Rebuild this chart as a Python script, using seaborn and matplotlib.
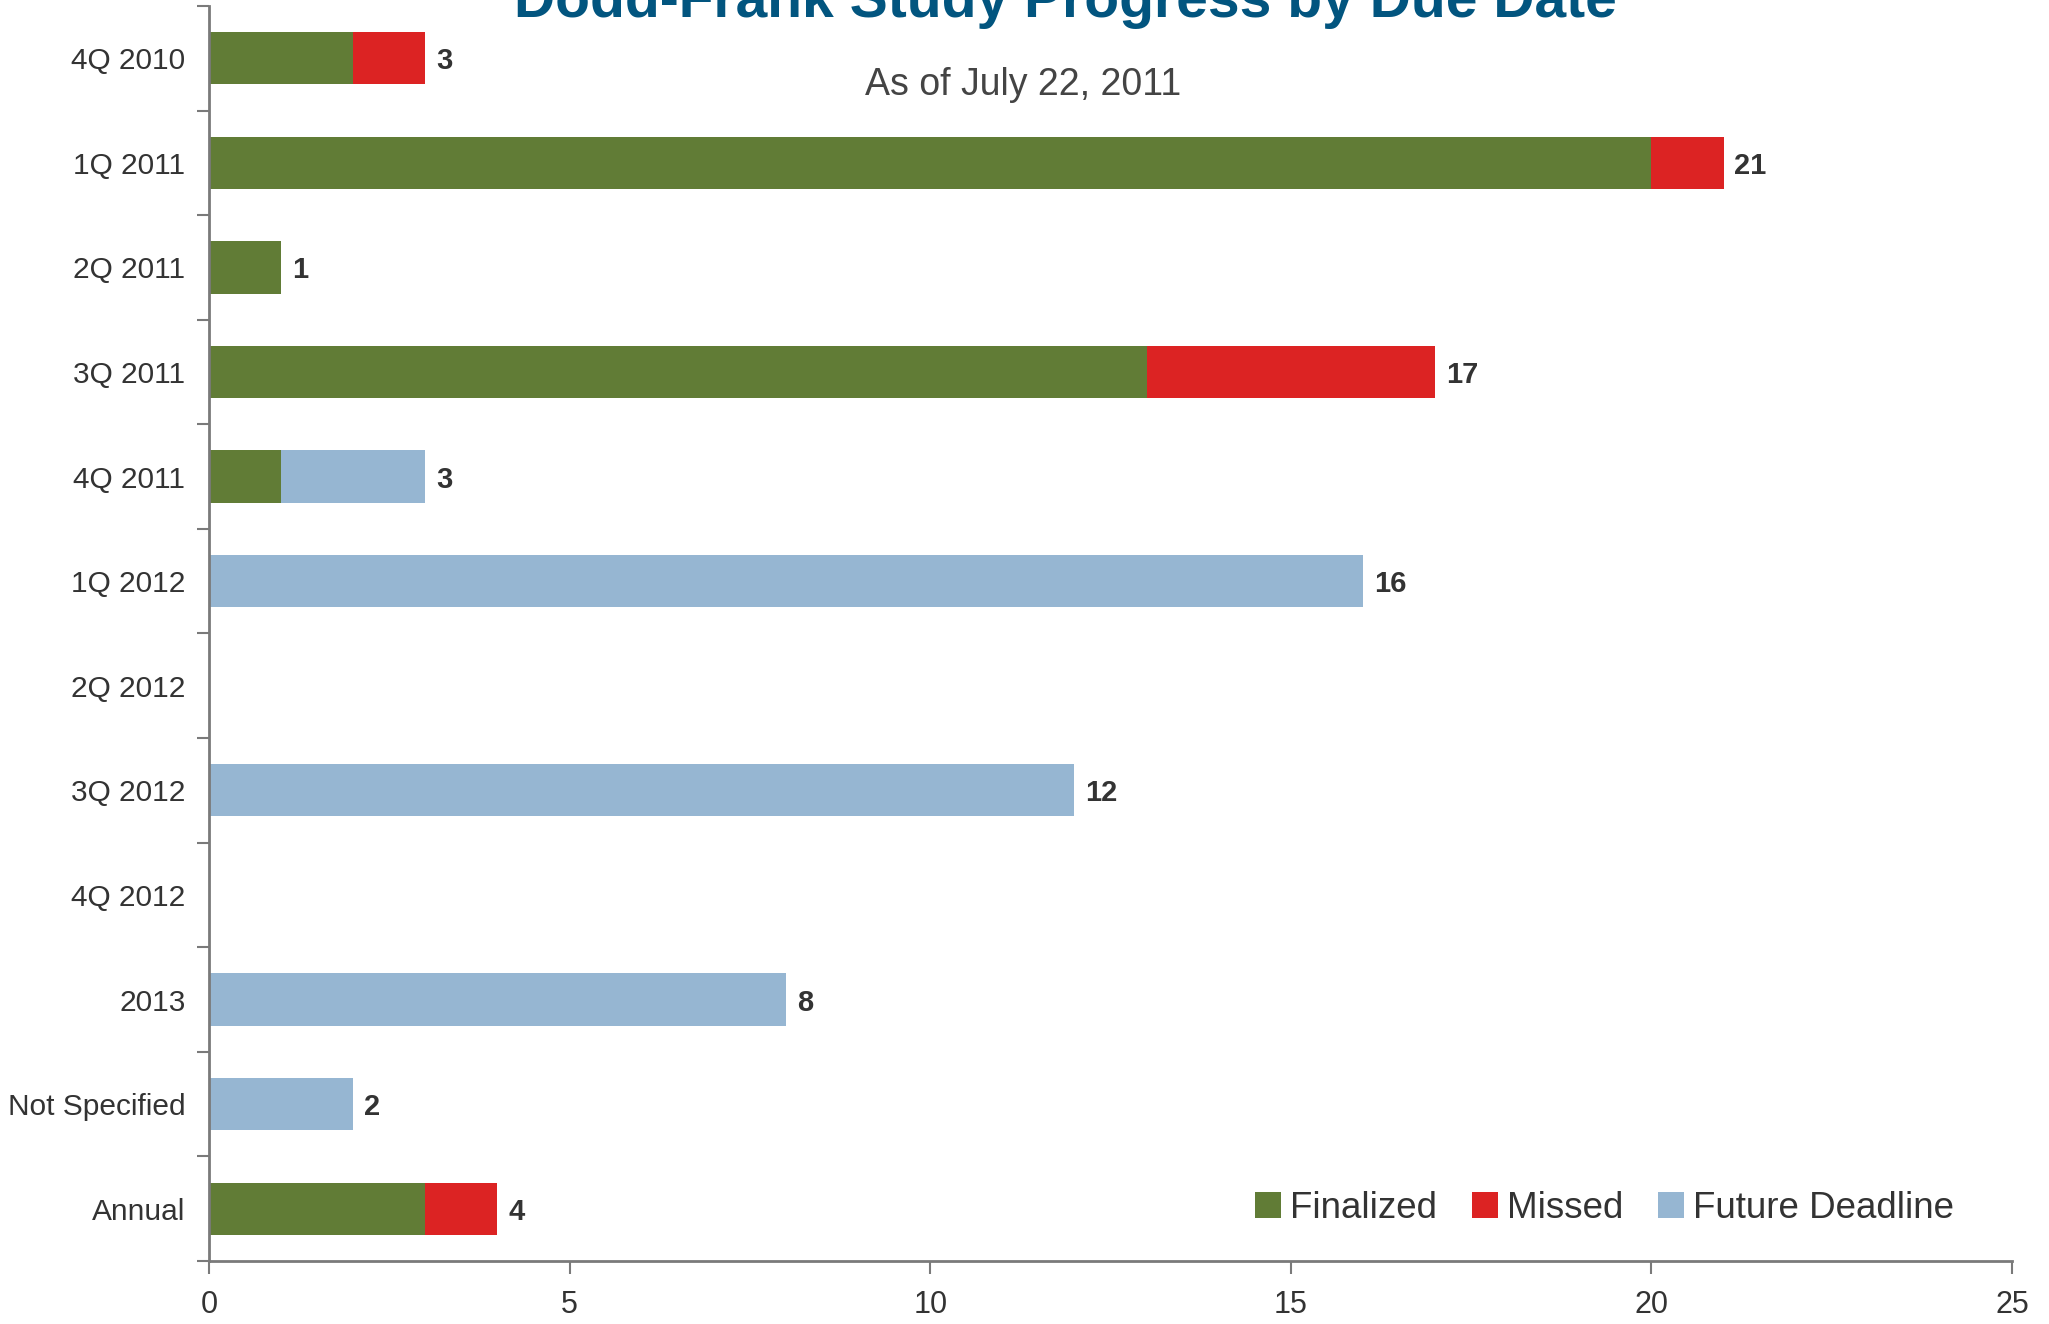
import matplotlib
matplotlib.use("Agg")
import matplotlib.pyplot as plt
import seaborn as sns
import numpy as np
import pandas as pd
from matplotlib.patches import Patch
from matplotlib.ticker import FixedLocator

categories = ["4Q 2010", "1Q 2011", "2Q 2011", "3Q 2011", "4Q 2011", "1Q 2012",
              "2Q 2012", "3Q 2012", "4Q 2012", "2013", "Not Specified", "Annual"]
finalized = [2, 20, 1, 13, 1, 0, 0, 0, 0, 0, 0, 3]
missed = [1, 1, 0, 4, 0, 0, 0, 0, 0, 0, 0, 1]
future = [0, 0, 0, 0, 2, 16, 0, 12, 0, 8, 2, 0]
series_names = ["Finalized", "Missed", "Future Deadline"]
x_ticks = [0, 5, 10, 15, 20, 25]

title_text = "Dodd-Frank Study Progress by Due Date"
subtitle_text = "As of July 22, 2011"

c_green = "#617c36"
c_red = "#dc2323"
c_blue = "#96b6d2"
text_col = "#333333"
axis_col = "#7a7a7a"

sns.set_theme(style="white")
plt.rcParams["font.family"] = ["Liberation Sans", "DejaVu Sans"]

df = pd.DataFrame({"cat": categories,
                   "fin": finalized,
                   "mis": missed,
                   "fut": future})
df["c2"] = df["fin"] + df["mis"]
df["c3"] = df["c2"] + df["fut"]

fig = plt.figure(figsize=(20.49, 13.24), dpi=100)
ax = fig.add_axes([0.102, 0.0476, 0.880, 0.9479])

for col, color in [("c3", c_blue), ("c2", c_red), ("fin", c_green)]:
    sns.barplot(data=df, y="cat", x=col, orient="h", color=color, width=0.5,
                order=categories, saturation=1, ax=ax, linewidth=0, edgecolor="none")

ax.set_xlim(0, 25)
ax.set_ylim(len(categories) - 0.5, -0.5)
ax.set_xticks(x_ticks)
ax.set_xticklabels([str(t) for t in x_ticks])
ax.set_xlabel("")
ax.set_ylabel("")

for i, tot in enumerate(df["c3"]):
    if tot > 0:
        ax.text(tot + 0.15, i, str(int(tot)), va="center_baseline", ha="left",
                fontsize=21, fontweight="bold", color=text_col)

for side in ["top", "right"]:
    ax.spines[side].set_visible(False)
for side in ["left", "bottom"]:
    ax.spines[side].set_color(axis_col)
    ax.spines[side].set_linewidth(2)

ax.yaxis.set_minor_locator(FixedLocator(np.arange(-0.5, len(categories), 1.0)))
ax.tick_params(axis="y", which="major", length=0, pad=17, labelsize=21.5, labelcolor=text_col)
ax.tick_params(axis="y", which="minor", length=9, width=1.5, color=axis_col, direction="out", left=True)
ax.tick_params(axis="x", which="major", length=9, width=1.5, color=axis_col, direction="out",
               bottom=True, pad=12, labelsize=22, labelcolor=text_col)

handles = [Patch(facecolor=c, edgecolor="none") for c in (c_green, c_red, c_blue)]
leg = ax.legend(handles, series_names, loc="center right", bbox_to_anchor=(0.968, 0.042),
                ncol=3, frameon=False, fontsize=26.5, handlelength=0.7, handleheight=0.7,
                handletextpad=0.25, columnspacing=0.95, borderaxespad=0, borderpad=0)
for t in leg.get_texts():
    t.set_color(text_col)

fig.text(0.52, 0.987, title_text, ha="center", va="baseline", fontsize=41,
         color="#02557f", fontweight="bold")
fig.text(0.4993, 0.928, subtitle_text, ha="center", va="baseline", fontsize=27,
         color="#444444")

fig.savefig("out.png", dpi=100)
